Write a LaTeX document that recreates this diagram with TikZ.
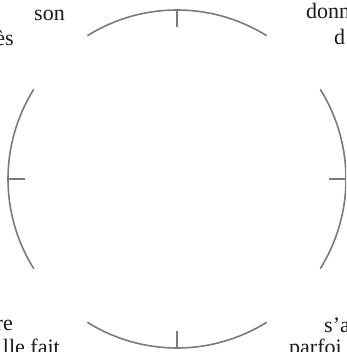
\documentclass[tikz,border=0pt]{standalone}
\usepackage{fontspec}
\setmainfont{Liberation Serif}
\usetikzlibrary{positioning}
\definecolor{ringgray}{HTML}{7A7A7A}
\definecolor{inkdark}{HTML}{1A1A1A}

\begin{document}
\begin{tikzpicture}[x=1pt,y=1pt,
  ringarc/.style={ringgray, line width=1.6pt},
  cornertext/.style={inkdark, font=\fontsize{22}{25}\selectfont, inner sep=0pt}]
  \useasboundingbox (-177,-173) rectangle (169,179);
  \clip (-177,-173) rectangle (169,179);

  % ring: four arcs with a tick at each quarter
  \foreach \a in {0,90,180,270} {
    \draw[ringarc] (\a-32:169) arc[start angle=\a-32, end angle=\a+32, radius=169];
    \draw[ringarc] (\a:169) -- (\a:152);
  }

  % cut-off labels at the corners
  \node[cornertext, anchor=base east] (topleftA) at (-112,158) {son};
  \node[cornertext, anchor=base east] (topleftB) at (-163,133) {ès};
  \node[cornertext, anchor=base west] (toprightA) at (129,160) {donn};
  \node[cornertext, anchor=base west] (toprightB) at (157,134) {d};
  \node[cornertext, anchor=base east] (botleftA) at (-164,-151) {re};
  \node[cornertext, anchor=base east] (botleftB) at (-117,-175) {lle fait};
  \node[cornertext, anchor=base west] (botrightA) at (147,-153) {s’a};
  \node[cornertext, anchor=base west] (botrightB) at (112,-175) {parfoi};
\end{tikzpicture}
\end{document}
